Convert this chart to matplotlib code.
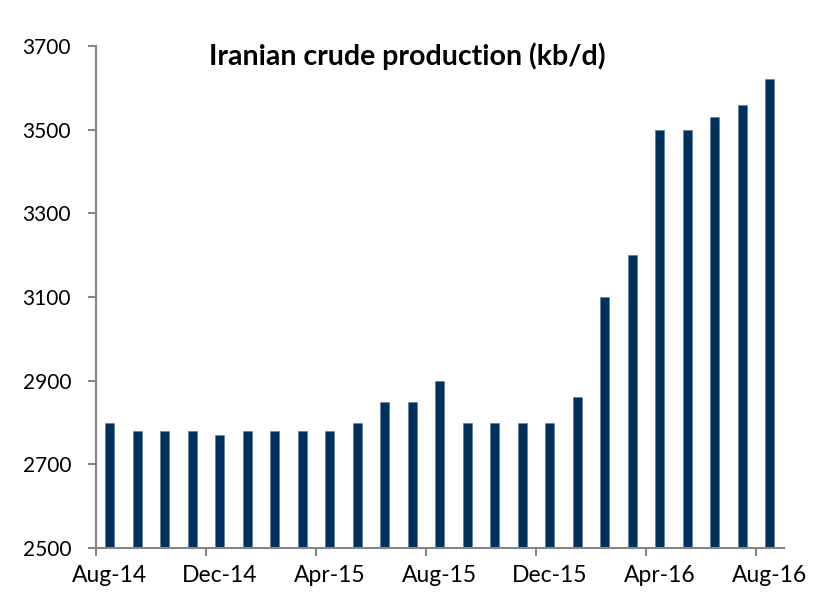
import matplotlib
matplotlib.use("Agg")
import matplotlib.pyplot as plt

plt.rcParams['font.family'] = ['Lato', 'DejaVu Sans']

months = ['Aug-14', 'Sep-14', 'Oct-14', 'Nov-14', 'Dec-14', 'Jan-15', 'Feb-15',
          'Mar-15', 'Apr-15', 'May-15', 'Jun-15', 'Jul-15', 'Aug-15', 'Sep-15',
          'Oct-15', 'Nov-15', 'Dec-15', 'Jan-16', 'Feb-16', 'Mar-16', 'Apr-16',
          'May-16', 'Jun-16', 'Jul-16', 'Aug-16']
production = [2800, 2780, 2780, 2780, 2770, 2780, 2780, 2780, 2780, 2800,
              2850, 2850, 2900, 2800, 2800, 2800, 2800, 2860, 3100, 3200,
              3500, 3500, 3530, 3560, 3620]
yticks = [2500, 2700, 2900, 3100, 3300, 3500, 3700]

fig = plt.figure(figsize=(8.24, 6.13), dpi=100)
ax = fig.add_axes([96/824, 65/613, 687.5/824, 502/613])

x = list(range(len(months)))
ax.bar(x, production, width=0.33, color='#00305e', edgecolor='#5a7896', linewidth=0.4)

ax.set_xlim(-0.5, len(months) - 0.5)
ax.set_ylim(2500, 3700)
ax.set_yticks(yticks)
ax.set_yticklabels([str(v) for v in yticks], fontsize=15)

# tick marks on category boundaries, labels on every 4th month
ax.set_xticks([i - 0.5 for i in range(0, len(months), 4)])
ax.set_xticklabels([])
ax.set_xticks(x[::4], minor=True)
ax.set_xticklabels(months[::4], minor=True, fontsize=16.5)
ax.tick_params(axis='x', which='minor', length=0, pad=12)
ax.tick_params(axis='x', which='major', length=6, width=1.5, color='#868686')
ax.tick_params(axis='y', length=6, width=1.5, color='#868686', pad=12)

for s in ['top', 'right']:
    ax.spines[s].set_visible(False)
for s in ['left', 'bottom']:
    ax.spines[s].set_color('#868686')
    ax.spines[s].set_linewidth(1.5)

fig.text(407/824, 1 - 56/613, 'Iranian crude production (kb/d)', ha='center', va='center',
         fontsize=20.5, fontweight='bold')

fig.savefig('out.png', dpi=100)
